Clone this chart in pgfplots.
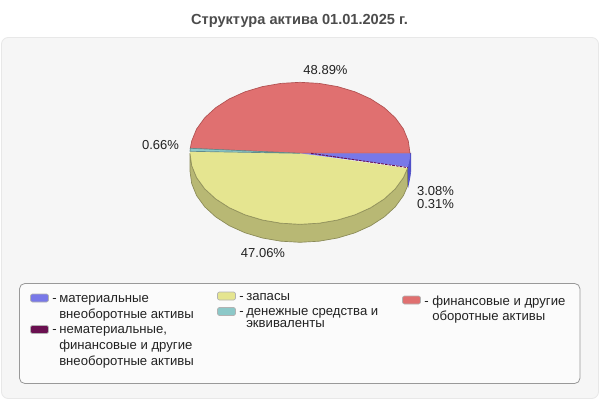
\documentclass[border=0pt]{standalone}
\usepackage{fontspec}
\setmainfont{Liberation Sans}
\usepackage{pgfplots}
\pgfplotsset{compat=1.18}

\definecolor{cblue}{HTML}{7878E8}
\definecolor{cblueside}{HTML}{5050C8}
\definecolor{cdark}{HTML}{6A1050}
\definecolor{cyellow}{HTML}{E5E590}
\definecolor{cyellowside}{HTML}{B8B874}
\definecolor{cteal}{HTML}{8CC8C8}
\definecolor{cred}{HTML}{E07070}
\definecolor{credge}{HTML}{B05050}
\definecolor{ctext}{HTML}{222222}

\begin{document}
\begin{tikzpicture}
\begin{axis}[
  scale only axis,
  width=450pt,
  height=300pt,
  xmin=0, xmax=600,
  ymin=0, ymax=400,
  y dir=reverse,
  hide axis,
  clip=false,
  every axis plot/.append style={line width=0.5pt},
]
% background
\path[fill=white] (axis cs:0,0) rectangle (axis cs:600,400);
\draw[draw=black!9, fill=black!3.5, rounded corners=5pt, line width=0.6pt]
  (axis cs:1.5,37.5) rectangle (axis cs:598.5,398.5);

% side walls
\addplot[fill=cyellowside, draw=cyellowside!75!black] coordinates {
  (407.5,168.3) (403.4,177.6) (395.3,188.8) (384.3,198.9) (370.7,207.7)
  (355,214.8) (337.6,220) (319.1,223.2) (300,224.3) (280.9,223.2) (262.4,220)
  (245,214.8) (229.3,207.7) (215.7,198.9) (204.7,188.8) (196.6,177.6)
  (191.7,165.6) (190,153.3) (190,171.3) (191.7,183.6) (196.6,195.6)
  (204.7,206.8) (215.7,216.9) (229.3,225.7) (245,232.8) (262.4,238)
  (280.9,241.2) (300,242.3) (319.1,241.2) (337.6,238) (355,232.8)
  (370.7,225.7) (384.3,216.9) (395.3,206.8) (403.4,195.6) (407.5,186.3)
} -- cycle;
\addplot[fill=cblueside, draw=cblueside] coordinates {
  (410,153.3) (410.8,153.3) (410.8,171.3) (409.8,178) (408.4,185) (407.9,167) (409.5,160.1)
} -- cycle;

% top faces
\addplot[fill=cred, draw=credge] coordinates {
  (300,153.3) (190.3,148.3) (191.7,141) (196.6,129) (204.7,117.8) (215.7,107.7)
  (229.3,98.9) (245,91.8) (262.4,86.6) (280.9,83.4) (300,82.3) (319.1,83.4)
  (337.6,86.6) (355,91.8) (370.7,98.9) (384.3,107.7) (395.3,117.8) (403.4,129)
  (408.3,141) (410,153.3)
} -- cycle;
\addplot[fill=cyellow, draw=none] coordinates {
  (300,153.3) (407.5,168.3) (403.4,177.6) (395.3,188.8) (384.3,198.9) (370.7,207.7)
  (355,214.8) (337.6,220) (319.1,223.2) (300,224.3) (280.9,223.2) (262.4,220)
  (245,214.8) (229.3,207.7) (215.7,198.9) (204.7,188.8) (196.6,177.6)
  (191.7,165.6) (190,153.3) (190,151.3)
} -- cycle;
\addplot[draw=cyellowside!80!black] coordinates {
  (407.5,168.3) (403.4,177.6) (395.3,188.8) (384.3,198.9) (370.7,207.7)
  (355,214.8) (337.6,220) (319.1,223.2) (300,224.3) (280.9,223.2) (262.4,220)
  (245,214.8) (229.3,207.7) (215.7,198.9) (204.7,188.8) (196.6,177.6)
  (191.7,165.6) (190,153.3)
};
\addplot[fill=cteal, draw=cteal!70!black] coordinates {
  (300,153.3) (190,151.3) (190.3,148.3)
} -- cycle;
\addplot[fill=cblue, draw=none] coordinates {
  (300,153.3) (410,153.3) (409.5,160.1) (407.9,167)
} -- cycle;
\addplot[draw=cdark, dash pattern=on 2pt off 0.8pt, line width=0.7pt] coordinates {
  (311,153.3) (407.7,167.6)
};

% percent labels
\begin{scope}[every node/.style={font=\fontsize{9.75pt}{11pt}\selectfont, text=ctext, inner sep=0pt}]
\node at (axis cs:325.5,70.5) {48.89\%};
\node at (axis cs:160.5,145) {0.66\%};
\node at (axis cs:435.5,191) {3.08\%};
\node at (axis cs:435.5,204.5) {0.31\%};
\node at (axis cs:263,253) {47.06\%};
\end{scope}

% title
\node[font=\fontsize{10.95pt}{12pt}\selectfont\bfseries, text=black!70, inner sep=0pt] at (axis cs:299.5,21) {Структура актива 01.01.2025 г.};

% legend
\draw[draw=black!40, fill=black!1.5, rounded corners=4pt, line width=0.6pt]
  (axis cs:19.5,283.5) rectangle (axis cs:580,383.5);
\begin{scope}[every node/.style={font=\fontsize{9.85pt}{11pt}\selectfont, text=ctext, inner sep=0pt, anchor=west, text height=7pt, text depth=2pt},
  swatch/.style={rounded corners=1.5pt, draw=black!30, line width=0.5pt}]
\draw[swatch, fill=cblue] (axis cs:30.5,294) rectangle (axis cs:48.5,302);
\draw[swatch, fill=cdark] (axis cs:30.5,325.5) rectangle (axis cs:48.5,333.5);
\draw[swatch, fill=cyellow] (axis cs:217.5,292) rectangle (axis cs:235.5,300);
\draw[swatch, fill=cteal] (axis cs:217.5,307.5) rectangle (axis cs:235.5,315.5);
\draw[swatch, fill=cred] (axis cs:402.5,296) rectangle (axis cs:420.5,304);
\node at (axis cs:52,299) {-};
\node at (axis cs:59,299) {материальные};
\node at (axis cs:59,315) {внеоборотные активы};
\node at (axis cs:52,330) {-};
\node at (axis cs:59,330) {нематериальные,};
\node at (axis cs:59,346) {финансовые и другие};
\node at (axis cs:59,362) {внеоборотные активы};
\node at (axis cs:239,297) {-};
\node at (axis cs:246,297) {запасы};
\node at (axis cs:239,312) {-};
\node at (axis cs:246,312) {денежные средства и};
\node at (axis cs:246,324.5) {эквиваленты};
\node at (axis cs:424,302) {-};
\node at (axis cs:432,302) {финансовые и другие};
\node at (axis cs:432,317) {оборотные активы};
\end{scope}
\end{axis}
\end{tikzpicture}
\end{document}
